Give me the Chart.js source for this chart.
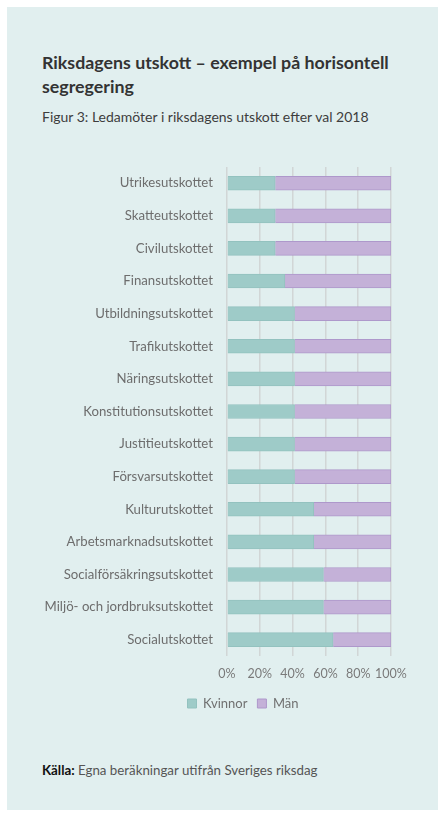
<!DOCTYPE html>
<html>
<head>
<meta charset="utf-8">
<script src="https://cdn.jsdelivr.net/npm/chart.js@4"></script>
<style>
  html, body { margin: 0; padding: 0; background: #ffffff; width: 440px; height: 815px; overflow: hidden; }
  #panel { position: absolute; left: 7px; top: 7px; width: 431px; height: 803px; background: #e1efef; }
  #title { position: absolute; left: 42px; top: 50px; width: 390px; font-family: "Lato", sans-serif; font-weight: 700; font-size: 17.8px; line-height: 24px; color: #333333; }
  #sub { position: absolute; left: 42px; top: 108px; font-family: "Lato", sans-serif; font-size: 14px; color: #3d3d3d; }
  #src { position: absolute; left: 42px; top: 762px; font-family: "Lato", sans-serif; font-size: 13.3px; color: #555555; }
  #src b { color: #111111; }
  #wrap { position: absolute; left: 0px; top: 145px; width: 440px; height: 575px; }
</style>
</head>
<body>
<div id="panel"></div>
<div id="title">Riksdagens utskott – exempel på horisontell segregering</div>
<div id="sub">Figur 3: Ledamöter i riksdagens utskott efter val 2018</div>
<div id="src"><b>Källa:</b> Egna beräkningar utifrån Sveriges riksdag</div>
<div id="wrap"><canvas id="c"></canvas></div>
<script>
const categories = [
  "Utrikesutskottet", "Skatteutskottet", "Civilutskottet", "Finansutskottet",
  "Utbildningsutskottet", "Trafikutskottet", "Näringsutskottet", "Konstitutionsutskottet",
  "Justitieutskottet", "Försvarsutskottet", "Kulturutskottet", "Arbetsmarknadsutskottet",
  "Socialförsäkringsutskottet", "Miljö- och jordbruksutskottet", "Socialutskottet"
];
const kvinnor = [29.4, 29.4, 29.4, 35.3, 41.2, 41.2, 41.2, 41.2, 41.2, 41.2, 52.9, 52.9, 58.8, 58.8, 64.7];
const man =     [70.6, 70.6, 70.6, 64.7, 58.8, 58.8, 58.8, 58.8, 58.8, 58.8, 47.1, 47.1, 41.2, 41.2, 35.3];
const seriesNames = ["Kvinnor", "Män"];
const xTicks = [0, 20, 40, 60, 80, 100];

const FONT = "Lato";
const LEGEND_CENTER = 248;

const legendShift = {
  id: "legendShift",
  afterLayout(chart) {
    const lg = chart.legend;
    if (!lg) return;
    const pad = lg.options.labels.padding || 0;
    const cur = (lg.left + lg.right + pad) / 2;
    const d = LEGEND_CENTER - cur;
    lg.left += d; lg.right += d;
  }
};

new Chart(document.getElementById("c"), {
  type: "bar",
  data: {
    labels: categories,
    datasets: [
      { label: seriesNames[0], data: kvinnor, backgroundColor: "#9ecbc8", borderColor: "#93c2bf", borderWidth: 1, barThickness: 14 },
      { label: seriesNames[1], data: man, backgroundColor: "#c4b1d8", borderColor: "#ae98cb", borderWidth: 1, barThickness: 14 }
    ]
  },
  plugins: [legendShift],
  options: {
    indexAxis: "y",
    responsive: true,
    maintainAspectRatio: false,
    animation: false,
    layout: { padding: { left: 30, right: 49, top: 7, bottom: 0 } },
    plugins: {
      legend: {
        position: "bottom",
        labels: { boxWidth: 9, boxHeight: 9, padding: 10, color: "#707070", font: { family: FONT, size: 13 } }
      },
      tooltip: { enabled: false }
    },
    scales: {
      x: {
        stacked: true, min: 0, max: 100,
        afterBuildTicks: (s) => { s.ticks = xTicks.map(v => ({ value: v })); },
        afterFit: (s) => { s.height = 31; },
        grid: { color: "#d1d6d6", lineWidth: 1.5, drawTicks: false },
        border: { display: false },
        ticks: { padding: 10, maxRotation: 0, minRotation: 0, autoSkip: false, color: "#7a7a7a", font: { family: FONT, size: 12.5 }, callback: (v) => v + "%" }
      },
      y: {
        stacked: true,
        afterFit: (s) => { s.width = 197; },
        grid: { display: false, drawTicks: false },
        border: { display: false },
        ticks: { padding: 14, color: "#6d6d6d", font: { family: FONT, size: 13.2 } }
      }
    }
  }
});
</script>
</body>
</html>
